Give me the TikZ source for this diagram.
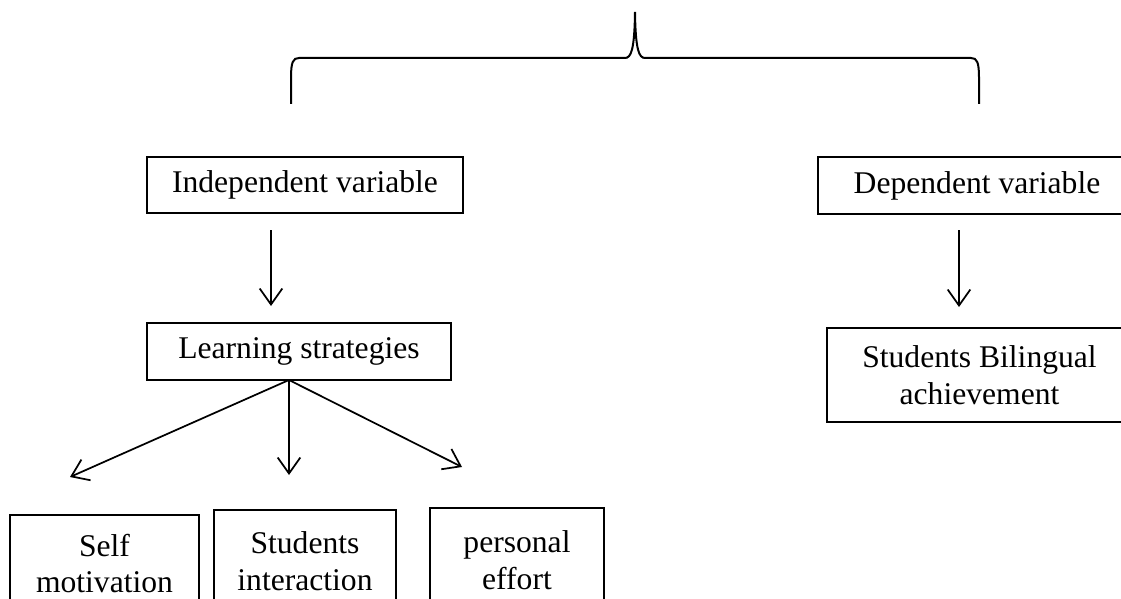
\documentclass[tikz,border=0pt]{standalone}
\usepackage{fontspec}
\setmainfont{Liberation Serif}
\usetikzlibrary{arrows.meta}
\begin{document}
\begin{tikzpicture}[x=0.75pt,y=-0.75pt,
  box/.style={draw=black, line width=0.9pt, inner sep=0pt, align=center,
    font=\fontsize{23.7}{27.6}\selectfont},
  arr/.style={line width=1.3pt, -{Straight Barb[length=12pt,width=17pt,line width=1.3pt]}},
  bracepath/.style={line width=1.5pt}]
\useasboundingbox (0,0) rectangle (1121,599);
\clip (0,0) rectangle (1121,599);
% brace
\draw[bracepath] (291,104) -- (291,78) .. controls (291,62) and (293,58) .. (299,58)
  -- (625,58) .. controls (631,58) and (634.5,50) .. (635,12)
  .. controls (635.5,50) and (639,58) .. (645,58)
  -- (971,58) .. controls (977,58) and (979,62) .. (979,78) -- (979,104);
% boxes
\node[box, minimum width=237pt, minimum height=42pt] (ind) at (305,185) {Independent variable};
\node[box, minimum width=228pt, minimum height=42.75pt] (learn) at (299,351.5) {Learning strategies};
\node[box, minimum width=238.5pt, minimum height=42.75pt] (dep) at (977,185.5) {Dependent variable};
\node[box, minimum width=228.75pt, minimum height=70.5pt] (bil) at (979.5,375) {Students Bilingual\\achievement};
\node[box, minimum width=141.75pt, minimum height=72.75pt] (self) at (104.5,563.5) {Self\\motivation};
\node[box, minimum width=136.5pt, minimum height=76.5pt] (inter) at (305,561) {Students\\interaction};
\node[box, minimum width=130.5pt, minimum height=78pt] (eff) at (517,560) {personal\\effort};
% connector coordinates
\coordinate (i1) at (271,230);
\coordinate (i2) at (271,306);
\coordinate (d1) at (959,230);
\coordinate (d2) at (959,307);
\coordinate (ls) at (289,380);
\coordinate (t1) at (70,477);
\coordinate (t2) at (289,475);
\coordinate (t3) at (462,467);
% arrows
\draw[arr] (i1) -- (i2);
\draw[arr] (d1) -- (d2);
\draw[arr] (ls) -- (t1);
\draw[arr] (ls) -- (t2);
\draw[arr] (ls) -- (t3);
\end{tikzpicture}
\end{document}
